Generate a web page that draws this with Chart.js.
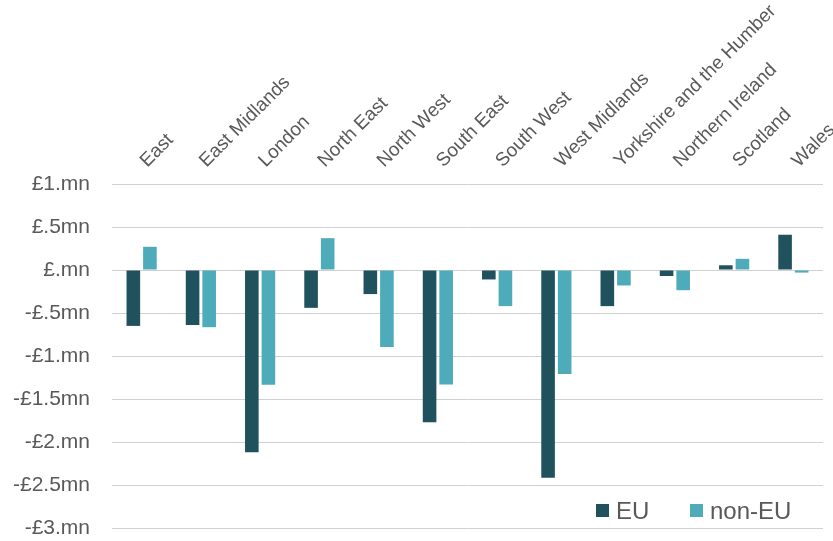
<!DOCTYPE html>
<html>
<head>
<meta charset="utf-8">
<script src="https://cdn.jsdelivr.net/npm/chart.js@4"></script>
<style>
    body { margin: 0; background: #ffffff; }
    #wrap { width: 833px; height: 541px; }
</style>
</head>
<body>
<div id="wrap"><canvas id="regions_chart" width="833" height="541"></canvas></div>
<script>
// regions along the top
const regions = ['East', 'East Midlands', 'London', 'North East', 'North West', 'South East',
    'South West', 'West Midlands', 'Yorkshire and the Humber', 'Northern Ireland', 'Scotland', 'Wales'];

// values in £ million
const euValues = [-0.65, -0.64, -2.12, -0.44, -0.28, -1.77, -0.11, -2.415, -0.42, -0.07, 0.055, 0.41];
const nonEuValues = [0.27, -0.665, -1.335, 0.37, -0.895, -1.33, -0.42, -1.21, -0.18, -0.235, 0.13, -0.03];

// y tick labels as they appear on the axis
const yTickValues = [1, 0.5, 0, -0.5, -1, -1.5, -2, -2.5, -3];
const yTickLabels = ['£1.mn', '£.5mn', '£.mn', '-£.5mn', '-£1.mn', '-£1.5mn', '-£2.mn', '-£2.5mn', '-£3.mn'];

const textColor = '#595959';
const fontFamily = '"Liberation Sans", Arial, sans-serif';

// legend drawn inside the plot, bottom right
const insideLegend = {
    id: 'insideLegend',
    afterDraw(chart) {
        const ctx = chart.ctx;
        const area = chart.chartArea;
        const items = [
            { x: area.right - 227, ds: chart.data.datasets[0] },
            { x: area.right - 133, ds: chart.data.datasets[1] }
        ];
        ctx.save();
        ctx.font = '24px ' + fontFamily;
        ctx.textBaseline = 'middle';
        ctx.textAlign = 'left';
        items.forEach(item => {
            ctx.fillStyle = item.ds.backgroundColor;
            ctx.fillRect(item.x, area.bottom - 24, 13, 13);
            ctx.fillStyle = textColor;
            ctx.fillText(item.ds.label, item.x + 20, area.bottom - 16);
        });
        ctx.restore();
    }
};

const ctxEl = document.getElementById('regions_chart');

new Chart(ctxEl, {
    type: 'bar',
    data: {
        labels: regions,
        datasets: [
            {
                label: 'EU',
                data: euValues,
                backgroundColor: '#20525e',
                categoryPercentage: 0.56,
                barPercentage: 0.82
            },
            {
                label: 'non-EU',
                data: nonEuValues,
                backgroundColor: '#4eabb9',
                categoryPercentage: 0.56,
                barPercentage: 0.82
            }
        ]
    },
    options: {
        responsive: false,
        animation: false,
        layout: { padding: { top: 0, right: 10, bottom: 13, left: 0 } },
        plugins: {
            legend: { display: false },
            tooltip: { enabled: false }
        },
        scales: {
            x: {
                position: 'top',
                grid: { display: false, drawTicks: false },
                border: { display: false },
                ticks: {
                    autoSkip: false,
                    maxRotation: 45,
                    minRotation: 45,
                    padding: 12,
                    labelOffset: 18,
                    color: textColor,
                    font: { family: fontFamily, size: 19 }
                },
                afterFit(scale) {
                    scale.height = 184;
                    scale.paddingLeft = 0;
                    scale.paddingRight = 0;
                }
            },
            y: {
                min: -3,
                max: 1,
                grid: { color: '#d0d0d0', drawTicks: false },
                border: { display: false },
                ticks: {
                    stepSize: 0.5,
                    padding: 22,
                    color: textColor,
                    font: { family: fontFamily, size: 21 },
                    callback: function(value) {
                        const idx = yTickValues.findIndex(v => Math.abs(v - value) < 1e-6);
                        return idx >= 0 ? yTickLabels[idx] : '';
                    }
                },
                afterFit(scale) {
                    scale.width = 112;
                    scale.paddingTop = 0;
                    scale.paddingBottom = 0;
                }
            }
        }
    },
    plugins: [insideLegend]
});
</script>
</body>
</html>
